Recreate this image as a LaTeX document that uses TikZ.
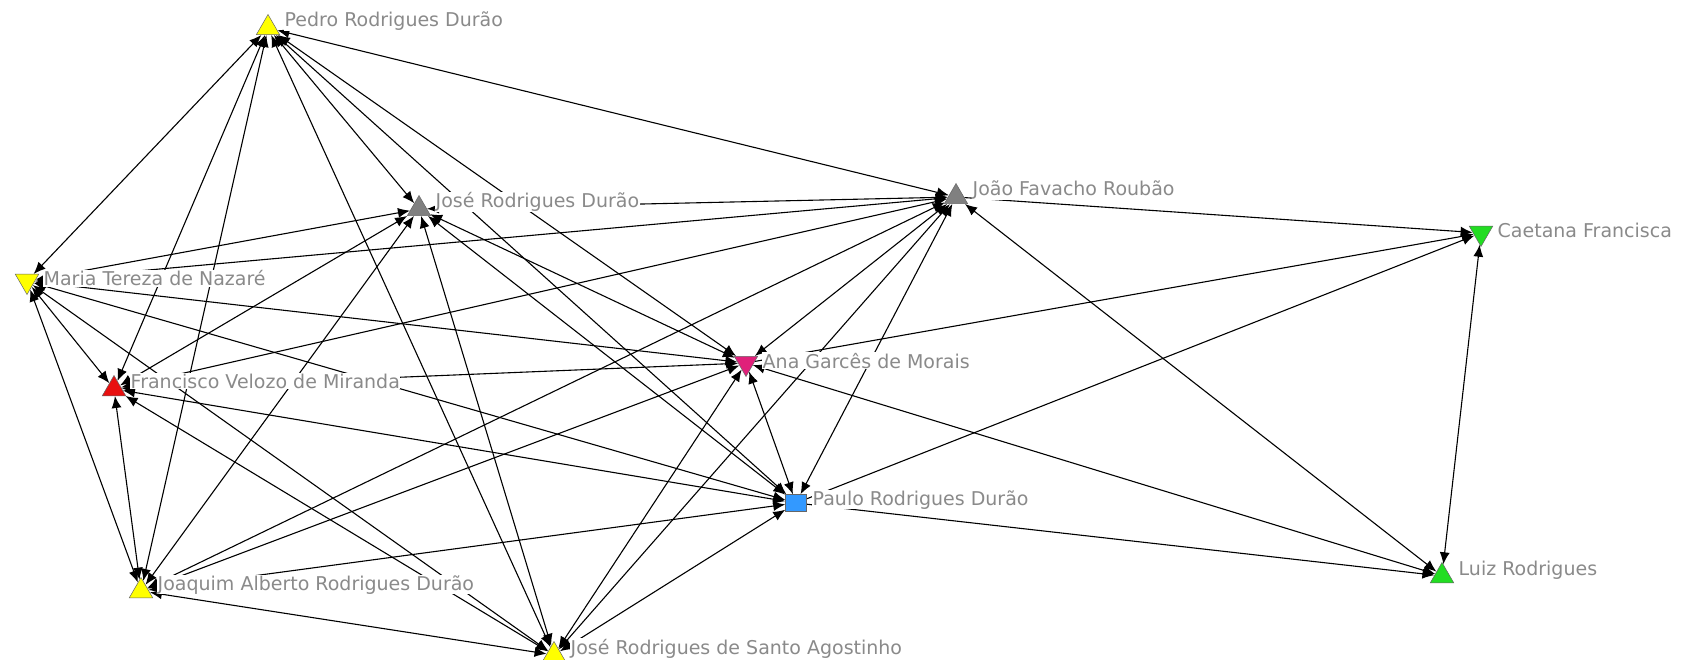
\documentclass[tikz,border=0pt]{standalone}
\usepackage{fontspec}
\setmainfont{DejaVu Sans}
\usetikzlibrary{shapes.geometric,arrows.meta,backgrounds}
\definecolor{labelgray}{HTML}{8A8A8A}
\definecolor{actyellow}{HTML}{FFFF00}
\definecolor{actgray}{HTML}{808080}
\definecolor{actgreen}{HTML}{22DD22}
\definecolor{actred}{HTML}{E81010}
\definecolor{actpink}{HTML}{E0207A}
\definecolor{actblue}{HTML}{3399FF}
\begin{document}
\begin{tikzpicture}[x=1pt,y=-1pt,
  actor/.style={regular polygon, regular polygon sides=3, minimum size=27pt,
    inner sep=0pt, draw=black!60, line width=0.5pt},
  uptri/.style={actor},
  downtri/.style={actor, shape border rotate=180},
  box/.style={rectangle, minimum width=21pt, minimum height=17pt, inner sep=0pt,
    draw=black!60, line width=0.5pt},
  actorlabel/.style={anchor=base west, text=labelgray, font=\fontsize{19}{19}\selectfont,
    fill=white, inner sep=0.5pt},
  tie/.style={line width=1.1pt, {Latex[length=12pt,width=10pt]}-{Latex[length=12pt,width=10pt]}},
  arc/.style={line width=1.1pt, -{Latex[length=12pt,width=10pt]}}]
\useasboundingbox (0,0) rectangle (1699,660);

% actors
\node[uptri, fill=actyellow]   (P) at (268,28)  {};
\node[uptri, fill=actgray]     (J) at (419,209) {};
\node[uptri, fill=actgray]     (F) at (956,197) {};
\node[downtri, fill=actgreen]  (C) at (1481,233) {};
\node[downtri, fill=actyellow] (M) at (27,281)  {};
\node[uptri, fill=actred]      (V) at (114,389) {};
\node[downtri, fill=actpink]   (A) at (746,363) {};
\node[box, fill=actblue]       (D) at (796,503) {};
\node[uptri, fill=actgreen]    (L) at (1442,576) {};
\node[uptri, fill=actyellow]   (Q) at (141,591) {};
\node[uptri, fill=actyellow]   (S) at (554,655) {};

% ties, kept beneath the actors and their names
\begin{scope}[on background layer]
\fill[white] (0,0) rectangle (1699,660);
\draw[tie] (P) -- (M);
\draw[tie] (P) -- (V);
\draw[tie] (P) -- (Q);
\draw[tie] (P) -- (J);
\draw[tie] (P) -- (A);
\draw[tie] (P) -- (D);
\draw[tie] (P) -- (S);
\draw[tie] (P) -- (F);
\draw[tie] (M) -- (J);
\draw[tie] (M) -- (F);
\draw[tie] (M) -- (V);
\draw[tie] (M) -- (Q);
\draw[tie] (M) -- (A);
\draw[tie] (M) -- (D);
\draw[tie] (M) -- (S);
\draw[tie] (V) -- (Q);
\draw[tie] (V) -- (J);
\draw[tie] (V) -- (F);
\draw[tie] (V) -- (A);
\draw[tie] (V) -- (D);
\draw[tie] (V) -- (S);
\draw[tie] (Q) -- (J);
\draw[tie] (Q) -- (F);
\draw[tie] (Q) -- (A);
\draw[tie] (Q) -- (D);
\draw[tie] (Q) -- (S);
\draw[tie] (J) -- (F);
\draw[tie] (J) -- (S);
\draw[tie] (J) -- (A);
\draw[tie] (J) -- (D);
\draw[arc] (F) -- (C);
\draw[tie] (F) -- (L);
\draw[tie] (F) -- (A);
\draw[tie] (F) -- (D);
\draw[tie] (F) -- (S);
\draw[arc] (A) -- (C);
\draw[tie] (A) -- (L);
\draw[tie] (A) -- (D);
\draw[tie] (A) -- (S);
\draw[arc] (D) -- (C);
\draw[arc] (D) -- (L);
\draw[tie] (D) -- (S);
\draw[tie] (C) -- (L);
\end{scope}

% names
\node[actorlabel] (nP) at (284,27)  {Pedro Rodrigues Durão};
\node[actorlabel] (nJ) at (435,208) {José Rodrigues Durão};
\node[actorlabel] (nF) at (972,196) {João Favacho Roubão};
\node[actorlabel] (nC) at (1497,238) {Caetana Francisca};
\node[actorlabel] (nM) at (43,286)  {Maria Tereza de Nazaré};
\node[actorlabel] (nV) at (130,388) {Francisco Velozo de Miranda};
\node[actorlabel] (nA) at (762,368) {Ana Garcês de Morais};
\node[actorlabel] (nD) at (812,505) {Paulo Rodrigues Durão};
\node[actorlabel] (nL) at (1458,575) {Luiz Rodrigues};
\node[actorlabel] (nQ) at (157,590) {Joaquim Alberto Rodrigues Durão};
\node[actorlabel] (nS) at (570,654) {José Rodrigues de Santo Agostinho};
\end{tikzpicture}
\end{document}
